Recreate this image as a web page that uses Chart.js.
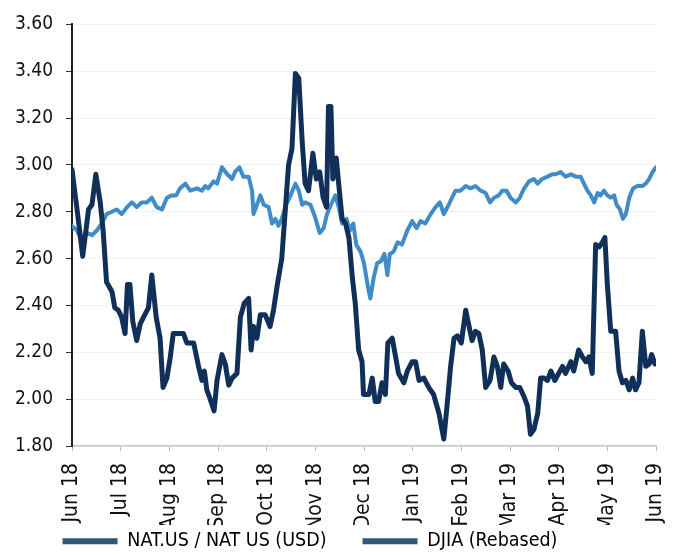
<!DOCTYPE html>
<html>
<head>
<meta charset="utf-8">
<script src="https://cdn.jsdelivr.net/npm/chart.js@4.4.1/dist/chart.umd.min.js"></script>
<style>
  html, body { margin: 0; padding: 0; background: #fff; }
  #wrap { width: 680px; height: 555px; }
</style>
</head>
<body>
<div id="wrap"><canvas id="lineGraph" width="680" height="555"></canvas></div>
<script>
// month ticks on the x axis (position 0 = Jun 18, 12 = Jun 19)
const monthLabels = ["Jun 18", "Jul 18", "Aug 18", "Sep 18", "Oct 18", "Nov 18", "Dec 18",
                     "Jan 19", "Feb 19", "Mar 19", "Apr 19", "May 19", "Jun 19"];

// NAT.US / NAT US (USD) - position in months since Jun 18, price
const natX = [0.00, 0.11, 0.22, 0.34, 0.41, 0.49, 0.58, 0.64, 0.71, 0.82, 0.88, 0.95, 1.02, 1.09, 1.14, 1.19,
  1.25, 1.33, 1.40, 1.47, 1.57, 1.64, 1.73, 1.81, 1.87, 1.95, 2.02, 2.08, 2.17, 2.29, 2.36, 2.50,
  2.60, 2.67, 2.72, 2.77, 2.84, 2.92, 2.98, 3.08, 3.15, 3.22, 3.29, 3.39, 3.46, 3.54, 3.63, 3.68,
  3.73, 3.80, 3.87, 3.97, 4.07, 4.14, 4.22, 4.31, 4.38, 4.45, 4.52, 4.59, 4.66, 4.73, 4.79, 4.86,
  4.95, 5.02, 5.09, 5.16, 5.23, 5.27, 5.32, 5.36, 5.43, 5.48, 5.55, 5.62, 5.69, 5.76, 5.82, 5.89,
  5.96, 5.99, 6.10, 6.17, 6.23, 6.30, 6.37, 6.44, 6.49, 6.58, 6.65, 6.71, 6.82, 6.89, 6.99, 7.06,
  7.13, 7.23, 7.33, 7.43, 7.54, 7.64, 7.71, 7.78, 7.85, 7.92, 8.00, 8.09, 8.15, 8.22, 8.29, 8.36,
  8.43, 8.50, 8.59, 8.67, 8.74, 8.81, 8.87, 8.96, 9.03, 9.12, 9.20, 9.29, 9.36, 9.42, 9.49, 9.57,
  9.63, 9.70, 9.77, 9.84, 9.92, 10.08, 10.14, 10.25, 10.31, 10.41, 10.49, 10.56, 10.62, 10.69, 10.76, 10.83,
  10.90, 10.95, 11.00, 11.07, 11.17, 11.24, 11.31, 11.38, 11.45, 11.52, 11.58, 11.65, 11.72, 11.79, 11.86, 11.91,
  11.98];
const natY = [2.98, 2.80, 2.61, 2.81, 2.83, 2.96, 2.84, 2.72, 2.50, 2.46, 2.39, 2.38, 2.35, 2.28, 2.49, 2.49,
  2.33, 2.25, 2.32, 2.35, 2.39, 2.53, 2.35, 2.26, 2.05, 2.09, 2.18, 2.28, 2.28, 2.28, 2.24, 2.24,
  2.14, 2.08, 2.12, 2.04, 2.00, 1.95, 2.08, 2.19, 2.15, 2.06, 2.09, 2.11, 2.35, 2.41, 2.43, 2.21,
  2.31, 2.26, 2.36, 2.36, 2.31, 2.38, 2.49, 2.60, 2.80, 3.00, 3.07, 3.39, 3.37, 3.10, 2.92, 2.89,
  3.05, 2.94, 2.97, 2.86, 2.82, 3.25, 3.25, 2.94, 3.03, 2.92, 2.77, 2.75, 2.69, 2.52, 2.41, 2.21,
  2.16, 2.02, 2.02, 2.09, 1.99, 1.99, 2.07, 2.02, 2.24, 2.26, 2.18, 2.11, 2.07, 2.12, 2.16, 2.16,
  2.08, 2.09, 2.05, 2.02, 1.94, 1.83, 1.98, 2.14, 2.26, 2.27, 2.24, 2.38, 2.32, 2.25, 2.29, 2.28,
  2.21, 2.05, 2.08, 2.18, 2.14, 2.05, 2.15, 2.12, 2.07, 2.05, 2.05, 2.01, 1.97, 1.85, 1.87, 1.94,
  2.09, 2.09, 2.08, 2.12, 2.08, 2.14, 2.11, 2.16, 2.12, 2.21, 2.18, 2.16, 2.18, 2.11, 2.66, 2.65,
  2.67, 2.69, 2.49, 2.29, 2.29, 2.12, 2.07, 2.08, 2.04, 2.09, 2.04, 2.07, 2.29, 2.14, 2.15, 2.19,
  2.15];

// DJIA (Rebased)
const djiaX = [0.00, 0.10, 0.20, 0.30, 0.41, 0.51, 0.61, 0.71, 0.82, 0.92, 1.02, 1.13, 1.23, 1.33, 1.43, 1.54,
  1.64, 1.74, 1.85, 1.95, 2.05, 2.14, 2.22, 2.33, 2.43, 2.57, 2.67, 2.74, 2.80, 2.91, 2.98, 3.08,
  3.19, 3.29, 3.35, 3.44, 3.52, 3.63, 3.70, 3.73, 3.80, 3.87, 3.94, 4.04, 4.11, 4.18, 4.24, 4.31,
  4.40, 4.49, 4.59, 4.66, 4.73, 4.79, 4.90, 4.99, 5.09, 5.17, 5.24, 5.32, 5.41, 5.48, 5.55, 5.64,
  5.71, 5.78, 5.84, 5.93, 6.00, 6.08, 6.13, 6.20, 6.27, 6.35, 6.42, 6.48, 6.53, 6.61, 6.69, 6.78,
  6.89, 6.99, 7.08, 7.16, 7.26, 7.37, 7.47, 7.56, 7.64, 7.74, 7.81, 7.88, 7.98, 8.09, 8.19, 8.29,
  8.40, 8.50, 8.59, 8.67, 8.77, 8.84, 8.93, 9.01, 9.12, 9.20, 9.29, 9.39, 9.49, 9.57, 9.66, 9.77,
  9.87, 9.94, 10.04, 10.14, 10.25, 10.35, 10.45, 10.52, 10.59, 10.66, 10.73, 10.80, 10.86, 10.93, 11.00, 11.07,
  11.14, 11.19, 11.26, 11.32, 11.38, 11.45, 11.53, 11.62, 11.72, 11.79, 11.86, 11.93, 12.00];
const djiaY = [2.74, 2.72, 2.68, 2.71, 2.70, 2.72, 2.75, 2.79, 2.80, 2.81, 2.79, 2.82, 2.84, 2.82, 2.84, 2.84,
  2.86, 2.82, 2.81, 2.86, 2.87, 2.87, 2.90, 2.92, 2.89, 2.90, 2.89, 2.91, 2.90, 2.93, 2.92, 2.99,
  2.96, 2.94, 2.97, 2.99, 2.95, 2.95, 2.89, 2.79, 2.83, 2.87, 2.83, 2.82, 2.75, 2.77, 2.74, 2.77,
  2.83, 2.87, 2.92, 2.89, 2.83, 2.84, 2.83, 2.78, 2.71, 2.73, 2.79, 2.83, 2.87, 2.82, 2.75, 2.77,
  2.72, 2.75, 2.66, 2.63, 2.58, 2.48, 2.43, 2.52, 2.58, 2.59, 2.62, 2.53, 2.62, 2.63, 2.67, 2.66,
  2.72, 2.76, 2.73, 2.76, 2.75, 2.79, 2.82, 2.84, 2.79, 2.83, 2.86, 2.89, 2.89, 2.91, 2.90, 2.91,
  2.89, 2.88, 2.84, 2.86, 2.87, 2.89, 2.89, 2.86, 2.84, 2.86, 2.90, 2.93, 2.94, 2.92, 2.94, 2.95,
  2.96, 2.96, 2.97, 2.95, 2.96, 2.95, 2.95, 2.92, 2.89, 2.87, 2.84, 2.88, 2.87, 2.89, 2.87, 2.86,
  2.87, 2.83, 2.81, 2.77, 2.79, 2.86, 2.90, 2.91, 2.91, 2.92, 2.94, 2.97, 2.99];

const yTicks = [1.8, 2.0, 2.2, 2.4, 2.6, 2.8, 3.0, 3.2, 3.4, 3.6];

const FONT = "'DejaVu Sans Condensed', 'DejaVu Sans', sans-serif";

function toPoints(xs, ys){
    return xs.map((x, i) => ({x: x, y: ys[i]}));
}

// the legend box is kept short so the month labels fit above it,
// then it is moved into place (left and up) before drawing
const legendShift = {
    id: 'legendShift',
    afterLayout(chart){
        chart.legend.left -= 36;
        chart.legend.top -= 29.5;
    }
};

const ctx = document.getElementById('lineGraph').getContext('2d');

const chart = new Chart(ctx, {
    type: 'line',
    data: {
        datasets: [{
            label: 'NAT.US / NAT US (USD)',
            data: toPoints(natX, natY),
            borderColor: '#10305a',
            borderWidth: 5,
            pointRadius: 0,
            tension: 0,
            borderJoinStyle: 'round',
            borderCapStyle: 'round'
        }, {
            label: 'DJIA (Rebased)',
            data: toPoints(djiaX, djiaY),
            borderColor: '#408cc8',
            borderWidth: 4,
            pointRadius: 0,
            tension: 0,
            borderJoinStyle: 'round',
            borderCapStyle: 'round'
        }]
    },
    plugins: [legendShift],
    options: {
        responsive: false,
        animation: false,
        layout: {
            padding: {top: 22, right: 24, left: 0, bottom: 0}
        },
        plugins: {
            tooltip: {enabled: false},
            legend: {
                position: 'bottom',
                maxHeight: 30,
                labels: {
                    color: '#111',
                    font: {family: FONT, size: 19.5},
                    boxWidth: 55,
                    boxHeight: 6,
                    padding: 36,
                    generateLabels: c => c.data.datasets.map((ds, i) => ({
                        text: ds.label,
                        fillStyle: '#2c587d',
                        strokeStyle: '#2c587d',
                        lineWidth: 0,
                        datasetIndex: i
                    }))
                }
            }
        },
        scales: {
            x: {
                type: 'linear',
                min: 0,
                max: 12,
                afterBuildTicks: axis => {
                    axis.ticks = monthLabels.map((m, i) => ({value: i}));
                },
                afterFit: axis => {
                    axis.height = 79;
                    axis.paddingLeft = 0;
                    axis.paddingRight = 0;
                },
                ticks: {
                    color: '#111',
                    font: {family: FONT, size: 21},
                    maxRotation: 90,
                    minRotation: 90,
                    padding: 12,
                    autoSkip: false,
                    callback: v => monthLabels[v]
                },
                grid: {
                    drawOnChartArea: false,
                    color: '#b8b8b8',
                    tickLength: 5
                },
                border: {color: '#c8c8c8', width: 1.5}
            },
            y: {
                min: 1.8,
                max: 3.6,
                afterBuildTicks: axis => {
                    axis.ticks = yTicks.map(v => ({value: v}));
                },
                afterFit: axis => { axis.width = 72; },
                ticks: {
                    color: '#111',
                    font: {family: FONT, size: 19},
                    padding: 13,
                    callback: v => v.toFixed(2)
                },
                grid: {
                    color: '#f2f2f2',
                    tickColor: '#333',
                    tickLength: 6
                },
                border: {color: '#222', width: 2}
            }
        }
    }
});
</script>
</body>
</html>
